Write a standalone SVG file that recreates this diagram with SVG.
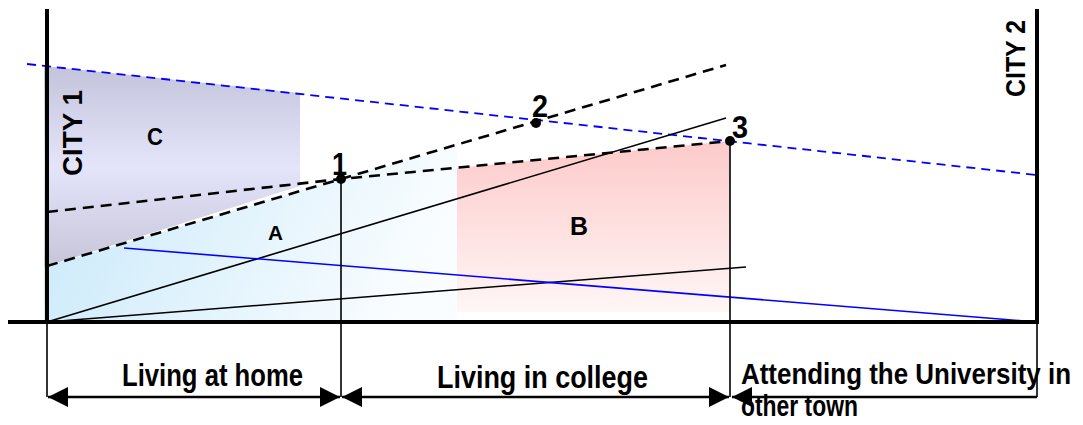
<svg xmlns="http://www.w3.org/2000/svg" width="1083" height="425" viewBox="0 0 1083 425">
<style>
.ax{stroke:#000;stroke-width:4;fill:none}
.thin{stroke:#000;stroke-width:1.6;fill:none}
.dash{stroke:#000;stroke-width:2.6;stroke-dasharray:11 7;fill:none}
.bdash{stroke:#0000ff;stroke-width:1.8;stroke-dasharray:9 6;fill:none}
.sol{stroke:#000;stroke-width:1.6;fill:none}
.blue{stroke:#0000ff;stroke-width:1.6;fill:none}
.dim{stroke:#000;stroke-width:2.4;fill:none}
.t{font-family:"Liberation Sans",Arial,sans-serif;font-weight:bold;fill:#000}
.lab{font-size:31px}
.num{font-size:32px}
.city{font-size:28px}
</style>
<defs>
<linearGradient id="gC" x1="0" y1="66" x2="0" y2="267" gradientUnits="userSpaceOnUse">
<stop offset="0" stop-color="#c3c3db"/>
<stop offset="0.5" stop-color="#e4e4fb"/>
<stop offset="1" stop-color="#c6c5d8"/>
</linearGradient>
<linearGradient id="gA" x1="44" y1="160" x2="400" y2="330" gradientUnits="userSpaceOnUse">
<stop offset="0" stop-color="#c9e9fa"/>
<stop offset="1" stop-color="#fafdff"/>
</linearGradient>
<linearGradient id="gB" x1="0" y1="141" x2="0" y2="312" gradientUnits="userSpaceOnUse">
<stop offset="0" stop-color="#fdcaca"/>
<stop offset="1" stop-color="#fff6f6"/>
</linearGradient>
<marker id="ah" viewBox="0 0 20 20" refX="20" refY="10" markerWidth="20" markerHeight="20" markerUnits="userSpaceOnUse" orient="auto-start-reverse">
<path d="M0,0 L20,10 L0,20 Z" fill="#000"/>
</marker>
</defs>

<g id="regions">
<path id="regionC" d="M44,66 L300,93 L300,186 L44,267 Z" fill="url(#gC)"/>
<path id="regionA" d="M44,267 L341,179 L457,145 L457,322 L44,322 Z" fill="url(#gA)"/>
<path id="regionB" d="M457,168 L730,141 L730,312 L457,312 Z" fill="url(#gB)"/>
</g>

<g id="connectors">
<line class="bdash" x1="27" y1="64" x2="1037" y2="175"/>
<line class="dash" x1="47" y1="266" x2="726" y2="65"/>
<polyline class="dash" points="47,212 341,179 730,141"/>
<line class="sol" x1="47" y1="322" x2="726" y2="118"/>
<line class="sol" x1="47" y1="322" x2="746" y2="267"/>
<line class="blue" x1="124" y1="248" x2="1037" y2="322"/>
<line class="thin" x1="341" y1="179" x2="341" y2="397"/>
<line class="thin" x1="730" y1="141" x2="730" y2="397"/>
<line class="thin" x1="47" y1="322" x2="47" y2="397"/>
<line class="thin" x1="1037" y1="322" x2="1037" y2="397"/>
<line class="ax" x1="47" y1="9" x2="47" y2="324"/>
<line class="ax" x1="1037" y1="9" x2="1037" y2="324"/>
<line class="ax" x1="8" y1="322" x2="1039" y2="322"/>
<line class="dim" x1="48" y1="397" x2="340" y2="397" marker-start="url(#ah)" marker-end="url(#ah)"/>
<line class="dim" x1="342" y1="397" x2="729" y2="397" marker-start="url(#ah)" marker-end="url(#ah)"/>
<line class="dim" x1="732" y1="397" x2="1037" y2="397" marker-start="url(#ah)"/>
</g>

<g id="points">
<g id="p1"><circle cx="341" cy="179" r="5" fill="#000"/><text class="t num" x="332" y="175" textLength="15" lengthAdjust="spacingAndGlyphs">1</text></g>
<g id="p2"><circle cx="536" cy="123" r="5" fill="#000"/><text class="t num" x="532" y="117" textLength="16" lengthAdjust="spacingAndGlyphs">2</text></g>
<g id="p3"><circle cx="730" cy="141" r="5" fill="#000"/><text class="t num" x="732" y="138" textLength="16" lengthAdjust="spacingAndGlyphs">3</text></g>
</g>

<g id="labels">
<text class="t" font-size="23" x="147" y="145" textLength="16" lengthAdjust="spacingAndGlyphs">C</text>
<text class="t" font-size="20" x="268" y="240" textLength="15" lengthAdjust="spacingAndGlyphs">A</text>
<text class="t" font-size="25" x="570" y="235" textLength="18" lengthAdjust="spacingAndGlyphs">B</text>
<text class="t city" transform="translate(82,176) rotate(-90)" textLength="86" lengthAdjust="spacingAndGlyphs">CITY  1</text>
<text class="t city" transform="translate(1025,97) rotate(-90)" textLength="77" lengthAdjust="spacingAndGlyphs">CITY 2</text>
<text class="t lab" x="122" y="386" textLength="181" lengthAdjust="spacingAndGlyphs">Living at home</text>
<text class="t lab" x="437" y="388" textLength="211" lengthAdjust="spacingAndGlyphs">Living  in  college</text>
<text class="t" font-size="30" x="741" y="384" textLength="330" lengthAdjust="spacingAndGlyphs">Attending the University in</text>
<text class="t" font-size="29" x="741" y="416" textLength="117" lengthAdjust="spacingAndGlyphs">other town</text>
</g>
</svg>
